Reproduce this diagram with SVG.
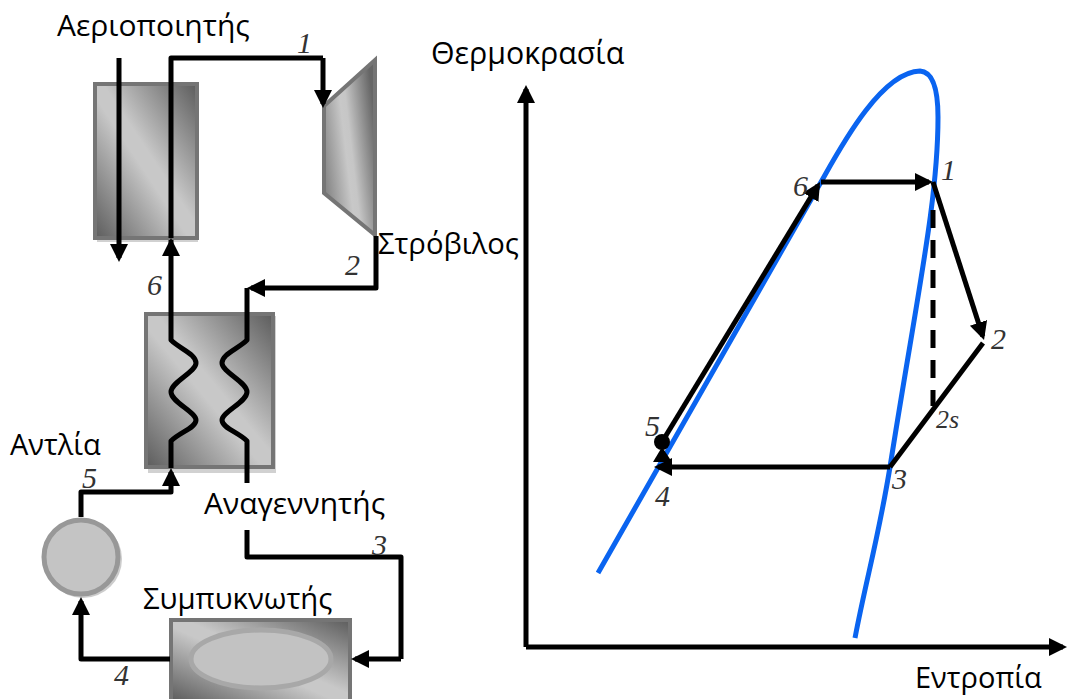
<svg xmlns="http://www.w3.org/2000/svg" width="1068" height="699" viewBox="0 0 1068 699">
<defs>
<linearGradient id="gd" x1="0" y1="1" x2="1" y2="0"><stop offset="0" stop-color="#5c5c5c"/><stop offset="0.46" stop-color="#c8c8c8"/><stop offset="0.54" stop-color="#c8c8c8"/><stop offset="1" stop-color="#5c5c5c"/></linearGradient>
<linearGradient id="gd2" x1="0" y1="0.75" x2="1" y2="0.35"><stop offset="0" stop-color="#808080"/><stop offset="0.45" stop-color="#c8c8c8"/><stop offset="0.55" stop-color="#c6c6c6"/><stop offset="1" stop-color="#666"/></linearGradient>
<marker id="ah" markerUnits="userSpaceOnUse" markerWidth="20" markerHeight="20" refX="14" refY="9" orient="auto"><path d="M0,0L18,9L0,18Z" fill="#000"/></marker>
</defs>
<style>
.eq{stroke:#757575;stroke-width:4}
.sh{fill:#bdbdbd;opacity:.7}
.c{fill:none;stroke:#000;stroke-width:5;stroke-linejoin:round}
.a{marker-end:url(#ah)}
.b{fill:none;stroke:#0a64f0;stroke-width:5}
.t{font-family:"Open Sans","Noto Sans",sans-serif;font-size:30px;fill:#000}
.n{font-family:"Liberation Serif",serif;font-style:italic;font-size:30px;fill:#333}
</style>
<g id="gasifier"><rect class="sh" x="97" y="87" width="101" height="155"/><rect class="eq" x="95" y="84" width="102" height="154" fill="url(#gd)"/></g>
<g id="turbine"><path class="eq" d="M324,106L375,60V235L324,193Z" fill="url(#gd2)" stroke-linejoin="miter"/></g>
<g id="regenerator"><rect class="sh" x="148" y="316" width="128" height="157"/><rect class="eq" x="146" y="314" width="127" height="153" fill="url(#gd)"/></g>
<g id="pump"><circle cx="83" cy="559" r="39" fill="#aaa" opacity=".6"/><circle cx="81" cy="557" r="37" fill="#c4c4c4" stroke="#989898" stroke-width="5"/></g>
<g id="condenser"><rect class="eq" x="171" y="620" width="179" height="81" fill="url(#gd)"/><ellipse cx="261" cy="659" rx="70" ry="29" fill="#c2c2c2" stroke="#a8a8a8" stroke-width="5"/></g>
<g id="connectors">
<path class="c a" d="M119,58V258"/>
<path class="c" d="M171,238V58H323"/>
<path class="c a" d="M323,58V104"/>
<path class="c a" d="M376,236V288H251"/>
<path class="c" d="M171,468V442L171,441C180,432 196,428 196,420C196,412 171,402 171,392C171,382 196,372 196,363C196,354 180,349 171,340V240"/>
<path d="M171,238L162,256H180Z" fill="#000"/>
<path class="c" d="M247,288V340C238,349 222,354 222,363C222,372 247,382 247,392C247,402 222,412 222,420C222,428 238,432 247,441V483"/>
<path class="c a" d="M81,517V492H171V472"/>
<path class="c" d="M247,530V557H401V659"/>
<path class="c a" d="M401,659H355"/>
<path class="c a" d="M170,659H81V601"/>
</g>
<g id="chart">
<path class="b" d="M598,573L821,182C838,152 880,72 920,71C936,72 938,100 938,117C938,200 918,290 890,467C878,540 866,580 855,638"/>
<path class="c a" d="M526,647V89"/>
<path class="c a" d="M526,647H1063"/>
<path class="c a" d="M821,182H929"/>
<path class="c a" d="M933,182L982.800,336.200"/>
<path class="c" d="M983,343L890,467"/>
<path class="c a" d="M890,467H658"/>
<path class="c a" d="M662,442L818,185.400"/>
<circle cx="662" cy="442" r="8"/>
<path d="M662,447L653,462H672Z" fill="#000"/>
<path class="c" d="M933,210V406" stroke-dasharray="18,12"/>
</g>
<g id="labels">
<text class="t" x="57" y="36">Αεριοποιητής</text>
<text class="t" x="378" y="254" style="font-size:29.200px">Στρόβιλος</text>
<text class="t" x="10" y="455" style="font-size:29px">Αντλία</text>
<text class="t" x="204" y="514">Αναγεννητής</text>
<text class="t" x="143" y="609" style="font-size:29.300px">Συμπυκνωτής</text>
<text class="t" x="431" y="64" style="font-size:30.300px">Θερμοκρασία</text>
<text class="t" x="915" y="688" style="font-size:29px">Εντροπία</text>
<text class="n" x="297" y="53">1</text><text class="n" x="345" y="275">2</text><text class="n" x="372" y="555">3</text><text class="n" x="114" y="685">4</text><text class="n" x="82" y="488">5</text><text class="n" x="147" y="295">6</text>
<text class="n" x="941" y="180">1</text><text class="n" x="991" y="349">2</text><text class="n" x="936" y="428" style="font-size:26px">2s</text><text class="n" x="892" y="489">3</text><text class="n" x="655" y="506">4</text><text class="n" x="645" y="436">5</text><text class="n" x="793" y="196">6</text>
</g>
</svg>
